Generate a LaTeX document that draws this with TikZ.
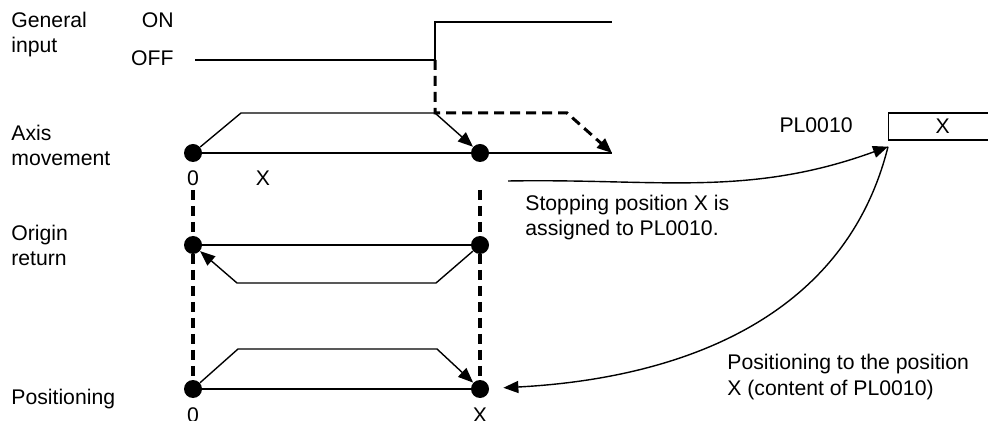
\documentclass[tikz,border=0pt]{standalone}
\usepackage{fontspec}
\setmainfont{Liberation Sans}
\usetikzlibrary{arrows.meta,calc}

\begin{document}
\begin{tikzpicture}[
    x=0.5pt, y=-0.5pt,
    every node/.style={font=\fontsize{10.6}{12.7}\selectfont, inner sep=0pt},
    label/.style={align=left, anchor=base west},
    level/.style={anchor=base east},
    mark0/.style={anchor=base},
    dot/.style={circle, fill=black, minimum size=9pt, inner sep=0pt},
    signal/.style={line width=0.7pt},
    arrow/.style={line width=0.7pt, -{Triangle[length=7.5pt,width=6pt]}},
    dasharrow/.style={line width=1.5pt, dash pattern=on 5pt off 3pt, -{Triangle[length=7.5pt,width=6pt]}},
    guide/.style={line width=1.6pt, dash pattern=on 5pt off 3pt},
    register/.style={draw, line width=0.7pt, minimum width=54pt, minimum height=13.5pt, anchor=west}
]
\useasboundingbox (0,0) rectangle (988,421);

% Row labels (base = last line)
\node[label] (geninput) at (11,53) {General\\input};
\node[label] (axismove) at (11,166) {Axis\\movement};
\node[label] (origret) at (11,266) {Origin\\return};
\node[label] (positioning) at (11,404) {Positioning};
\node[level] (on) at (174,28) {ON};
\node[level] (off) at (174,66) {OFF};

% General input signal
\coordinate (offstart) at (195,60);
\coordinate (rise) at (435,60);
\coordinate (risetop) at (435,22);
\coordinate (onend) at (612,22);
\draw[signal] (offstart) -- (rise) -- (risetop) -- (onend);

% Axis movement
\node[dot] (a0) at (193,153) {};
\node[dot] (a1) at (480,153) {};
\coordinate (axend) at (612,153);
\coordinate (acc) at (241,113);
\coordinate (dec) at (435,113);
\coordinate (ext) at (567,113);
\draw[signal] (a0) -- (axend);
\draw[arrow] (a0) -- (acc) -- (dec) -- (a1);
\draw[dasharrow] (rise) -- (dec) -- (ext) -- (axend);
\node[mark0] (a0lbl) at (193,186) {0};
\node[mark0] (axlbl) at (263,186) {X};

% Origin return
\node[dot] (r0) at (193,245) {};
\node[dot] (r1) at (480,245) {};
\coordinate (racc) at (436,283);
\coordinate (rdec) at (237,283);
\draw[signal] (r0) -- (r1);
\draw[arrow] (r1) -- (racc) -- (rdec) -- (r0);

% Positioning
\node[dot] (p0) at (193,389) {};
\node[dot] (p1) at (480,389) {};
\coordinate (pacc) at (238,349);
\coordinate (pdec) at (437,349);
\draw[signal] (p0) -- (p1);
\draw[arrow] (p0) -- (pacc) -- (pdec) -- (p1);
\node[mark0] (p0lbl) at (193,422) {0};
\node[mark0] (p1lbl) at (480,422) {X};

% Guides
\coordinate (g0) at (193,190);
\coordinate (g1) at (480,190);
\draw[guide] (g0) -- (p0);
\draw[guide] (g1) -- (p1);

% Register PL0010
\node[register] (pl) at (888,126.5) {X};
\node[anchor=base east] (pllbl) at (853,133) {PL0010};
\coordinate (plcorner) at ($(pl.south west)+(0,6)$);

% Assignment and positioning
\coordinate (stopstart) at (508,181);
\draw[arrow] (stopstart) to[out=1, in=200] (plcorner);
\draw[arrow, shorten >=7pt] (plcorner) to[out=-104, in=3] (p1);
\node[label] (stoptxt) at (525,236) {Stopping position X is\\assigned to PL0010.};
\node[label] (postxt) at (727,395) {Positioning to the position\\X (content of PL0010)};

\end{tikzpicture}
\end{document}
